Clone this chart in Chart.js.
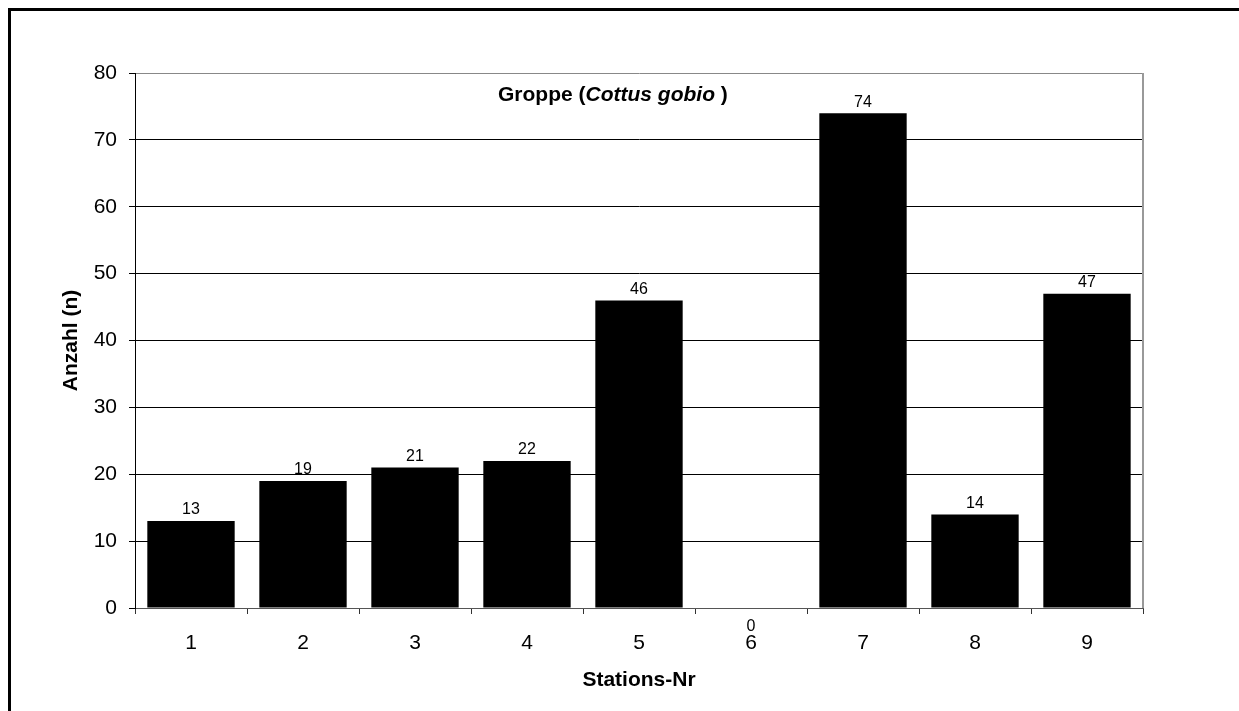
<!DOCTYPE html>
<html>
<head>
<meta charset="utf-8">
<script src="https://cdn.jsdelivr.net/npm/chart.js@4/dist/chart.umd.min.js"></script>
<style>
  html, body { margin: 0; padding: 0; background: #fff; }
  canvas { display: block; }
</style>
</head>
<body>
<canvas id="c" width="1239" height="711"></canvas>
<script>
// Station numbers along the x axis
const stations = ['1', '2', '3', '4', '5', '6', '7', '8', '9'];
// Number of bullheads caught per station
const counts = [13, 19, 21, 22, 46, 0, 74, 14, 47];
// Y axis range and step
const yMin = 0;
const yMax = 80;
const yStep = 10;

const FONT = "'Liberation Sans', Arial, Helvetica, sans-serif";

const decorations = {
  id: 'decorations',
  beforeDraw(chart) {
    const ctx = chart.ctx;
    ctx.save();
    ctx.fillStyle = '#fff';
    ctx.fillRect(0, 0, chart.width, chart.height);
    // frame: only top and left edges fall inside the canvas
    ctx.strokeStyle = '#000';
    ctx.lineWidth = 3;
    ctx.strokeRect(9.5, 9.5, 1400, 900);
    ctx.restore();
  },
  afterDatasetsDraw(chart) {
    const ctx = chart.ctx;
    const a = chart.chartArea;
    ctx.save();
    // plot frame on the right side
    ctx.strokeStyle = '#999';
    ctx.lineWidth = 2;
    ctx.beginPath();
    ctx.moveTo(a.right, a.top);
    ctx.lineTo(a.right, a.bottom);
    ctx.stroke();

    // value labels above the bars
    ctx.fillStyle = '#000';
    ctx.font = '16px ' + FONT;
    ctx.textAlign = 'center';
    ctx.textBaseline = 'middle';
    const meta = chart.getDatasetMeta(0);
    meta.data.forEach((bar, i) => {
      const v = counts[i];
      const y = v === 0 ? bar.base + 19 : bar.y - 11;
      ctx.fillText(String(v), bar.x, y);
    });

    // chart title inside the plot
    const parts = [
      ['bold', 'Groppe ('],
      ['italic bold', 'Cottus gobio'],
      ['bold', ' )']
    ];
    let x = 498;
    const base = 101;
    ctx.textAlign = 'left';
    ctx.textBaseline = 'alphabetic';
    parts.forEach(([style, txt]) => {
      ctx.font = style + ' 21px ' + FONT;
      ctx.fillText(txt, x, base);
      x += ctx.measureText(txt).width;
    });

    // axis titles
    ctx.font = 'bold 21px ' + FONT;
    ctx.textAlign = 'center';
    ctx.textBaseline = 'middle';
    ctx.fillText('Stations-Nr', (a.left + a.right) / 2, 680);
    ctx.save();
    ctx.translate(71, (a.top + a.bottom) / 2);
    ctx.rotate(-Math.PI / 2);
    ctx.fillText('Anzahl (n)', 0, 0);
    ctx.restore();
    ctx.restore();
  }
};

new Chart(document.getElementById('c'), {
  type: 'bar',
  data: {
    labels: stations,
    datasets: [{
      data: counts,
      backgroundColor: '#000',
      borderWidth: 0,
      barPercentage: 0.78,
      categoryPercentage: 1.0
    }]
  },
  options: {
    responsive: false,
    animation: false,
    devicePixelRatio: 1,
    layout: { padding: { top: 73, right: 96, left: 0, bottom: 0 } },
    plugins: {
      legend: { display: false },
      title: { display: false },
      tooltip: { enabled: false }
    },
    scales: {
      x: {
        afterFit(scale) { scale.height = 103; },
        grid: {
          offset: true,
          drawOnChartArea: false,
          drawTicks: true,
          tickLength: 6,
          color: '#333',
          lineWidth: 1
        },
        border: { color: '#555', width: 1 },
        ticks: {
          color: '#000',
          font: { family: FONT, size: 21 },
          padding: 17,
          maxRotation: 0
        }
      },
      y: {
        min: yMin,
        max: yMax,
        afterFit(scale) { scale.width = 135; },
        grid: {
          color: (c) => (c.tick && c.tick.value === yMax ? '#888' : '#000'),
          tickColor: '#000',
          lineWidth: 1,
          drawTicks: true,
          tickLength: 6
        },
        border: { color: '#000', width: 1 },
        ticks: {
          stepSize: yStep,
          color: '#000',
          font: { family: FONT, size: 21 },
          padding: 12
        }
      }
    }
  },
  plugins: [decorations]
});
</script>
</body>
</html>
